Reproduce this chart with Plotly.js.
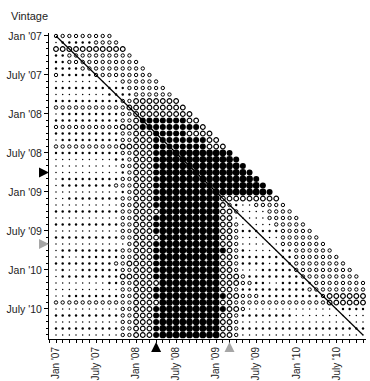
<!DOCTYPE html>
<html><head><meta charset="utf-8">
<script src="https://cdn.plot.ly/plotly-3.0.1.min.js"></script>
<style>html,body{margin:0;padding:0;background:#fff}#chart{width:370px;height:381px}</style>
</head><body><div id="chart"></div>
<script>
// Months Jan '07 .. Nov '10 are indexed 0..46 on both axes
const tickPositions = [0, 6, 12, 18, 24, 30, 36, 42];
const tickLabels = ["Jan '07", "July '07", "Jan '08", "July '08", "Jan '09", "July '09", "Jan '10", "July '10"];

// One string per vintage (row); one character per month (column).
// '.' tiny dot, ':' small dot, 'o' small open, 'O' open, '#' filled, '@' large filled
const rowPatterns = [
  "ooooooooo",
  ".:::::oooo",
  "OOOOOOOOOOO",
  "::oooooooooo",
  "::ooooooooooo",
  "::::oooooooooo",
  "o:::::ooooooooo",
  "..........oooooo",
  ":::::::::::oooooo",
  "........::::oooooo",
  "::::::::::ooOOOOOOO",
  "oooooooooooOOOOOOOOO",
  ".:::::::::ooOOOOOOOOO",
  "::::::::::ooO#######OO",
  "ooooooooooOOO#########O",
  "::::::::::ooOOO#####OOOO",
  ".:::::::::ooOOO########OO",
  "ooooooooooOOOOO########OOO",
  "::::::::::ooOOO#@@@@@@@@@@#",
  ".........::oOOO#@@@@@@@@@@@#",
  "..........ooOOO#@@@@@@@@@@@@#",
  "..........:oOOO#@@@@@@@@@@@@@#",
  ".:::::::::ooOOO#@@@@@@@@@@@@@@#",
  ".::::::::oooOOO#@@@@@@@@@@@@@@@#",
  "..........:oOOO#@@@@@@@@@@@@@@@@#",
  "..::::::::ooOOO#@@@@@@@@@OOOOOOOOO",
  "..........ooOOO#@@@@@@@@@Oo:..ooooo",
  "::::::::::ooOOOO@@@@@@@@@OOo....oooo",
  "..........ooOOO#@@@@@@@@@OO.....ooooo",
  "::::::::::ooOOO#@@@@@@@@@OOo.....ooooo",
  "..........ooOOO#@@@@@@@@@OOo::::::ooooo",
  "::::::::::ooOOOO@@@@@@@@@OOo......oooooo",
  "...........oOOO#@@@@@@@@@OOo......ooooooo",
  ".:::::::::ooOOO#@@@@@@@@@#Oo:.....::oooooo",
  ".:..::::::ooOOO#@@@@@@@@@OOo::::::::ooooooo",
  ":::::::::ooOOOO#@@@@@@@@@OOo::::.:::oooooooo",
  ".:..::::::ooOOO#@@@@@@@@@OOo...:::::ooooooooo",
  ".:::::::::OOOOO#@@@@@@@@@OOOo::::::::ooooooooo",
  "........::ooOOOO@@@@@@@@@OOOoo::..:::::oooooooo",
  "..........ooOOO#@@@@@@@@@OOo::::::::::ooooooooo",
  "..::::::::ooOOO#@@@@@@@@@#OOooo:::::::::oOOOOOO",
  "ooooooooooooOOOO@@@@@@@@@OOooooooooooooooOOOOOO",
  "..........ooOOO#@@@@@@@@@#OOo..............::::",
  "::::::::::ooOOO#@@@@@@@@@OOo::::::::...........",
  "..........ooOOO#@@@@@@@@@OOo...................",
  "::::::::::ooOOO#@@@@@@@@@OOo:::::::::::::::::::",
  "..........ooOOO#@@@@@@@@@OOo..................."
];

const diagonalMonths = [0, 46];
const bottomMarkerMonths = [15, 26];
const leftMarkerVintages = [21, 32];
const markerColors = ["#000000", "#a6a6a6"];

const styles = {
  ".": {symbol: "circle", size: 1.5, lw: 0},
  ":": {symbol: "circle", size: 2.4, lw: 0},
  "o": {symbol: "circle-open", size: 3.4, lw: 1.0},
  "O": {symbol: "circle-open", size: 4.7, lw: 1.2},
  "#": {symbol: "circle", size: 6.0, lw: 0},
  "@": {symbol: "circle", size: 6.8, lw: 0}
};

const traces = [];
Object.keys(styles).forEach(function (k) {
  const xs = [], ys = [];
  rowPatterns.forEach(function (row, r) {
    for (let c = 0; c < row.length; c++) {
      if (row[c] === k) { xs.push(c); ys.push(r); }
    }
  });
  const s = styles[k];
  traces.push({
    type: "scatter", mode: "markers", x: xs, y: ys, hoverinfo: "skip",
    marker: {symbol: s.symbol, size: s.size, color: "#000", line: {width: s.lw, color: "#000"}}
  });
});

traces.push({
  type: "scatter", mode: "lines", x: diagonalMonths, y: diagonalMonths,
  line: {color: "#000", width: 1.2}, hoverinfo: "skip"
});

const shapes = [];
bottomMarkerMonths.forEach(function (m, i) {
  shapes.push({
    type: "path", xref: "x", yref: "paper", xsizemode: "pixel", ysizemode: "pixel",
    xanchor: m, yanchor: 0, path: "M -5,-13 L 5,-13 L 0,-3 Z",
    fillcolor: markerColors[i], line: {width: 0}
  });
});
leftMarkerVintages.forEach(function (v, i) {
  shapes.push({
    type: "path", xref: "paper", yref: "y", xsizemode: "pixel", ysizemode: "pixel",
    xanchor: 0, yanchor: v, path: "M -10,5 L -10,-5 L 0,0 Z",
    fillcolor: markerColors[i], line: {width: 0}
  });
});

const font = {family: "Liberation Sans, Arial, sans-serif", size: 10.5, color: "#222"};
const xfont = {family: "Liberation Sans, Arial, sans-serif", size: 10, color: "#222"};

const layout = {
  width: 370, height: 381,
  margin: {l: 49, r: 4, t: 33, b: 42},
  showlegend: false,
  paper_bgcolor: "#fff", plot_bgcolor: "#fff",
  font: font,
  shapes: shapes,
  xaxis: {
    range: [-1.05, 46.45], showgrid: false, zeroline: false,
    showline: true, linecolor: "#000", linewidth: 1,
    tickvals: tickPositions, ticktext: tickLabels, tickangle: -90,
    ticks: "outside", ticklen: 3, tickcolor: "#000", tickfont: xfont,
    minor: {dtick: 1, tick0: 0, ticks: "outside", ticklen: 2.5, tickcolor: "#000", showgrid: false}
  },
  yaxis: {
    range: [46.62, -0.46], showgrid: false, zeroline: false,
    showline: true, linecolor: "#000", linewidth: 1,
    tickvals: tickPositions, ticktext: tickLabels,
    ticks: "outside", ticklen: 4, tickcolor: "#000", tickfont: font,
    minor: {dtick: 1, tick0: 0, ticks: "outside", ticklen: 2.5, tickcolor: "#000", showgrid: false}
  },
  annotations: [{
    text: "Vintage", xref: "paper", yref: "paper", x: -0.125, y: 1.056,
    xanchor: "left", yanchor: "middle", showarrow: false,
    font: {family: "Liberation Sans, Arial, sans-serif", size: 11, color: "#222"}
  }]
};

Plotly.newPlot("chart", traces, layout, {displayModeBar: false, staticPlot: true});
</script>
</body></html>
